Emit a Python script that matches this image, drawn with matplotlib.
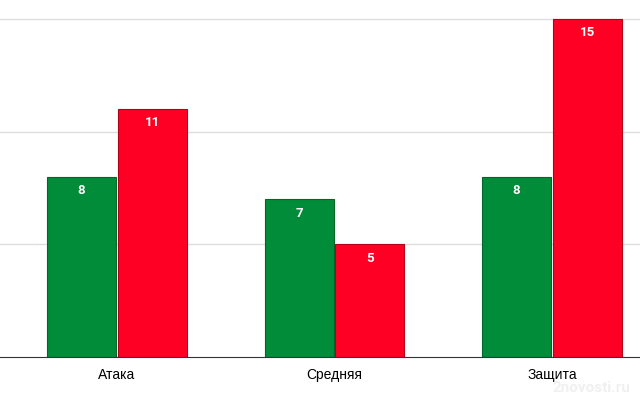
import numpy as np
import matplotlib.pyplot as plt

# data
categories = ["Атака", "Средняя", "Защита"]
green_vals = [8, 7, 8]
red_vals = [11, 5, 15]

plt.rcParams['font.family'] = ['Roboto', 'DejaVu Sans']

fig = plt.figure(figsize=(6.4, 4), dpi=100)
ax = fig.add_axes([0, 0.1075, 1, 0.8925])

x = np.arange(len(categories))
w = 0.317
g = ax.bar(x - w / 2 - 0.004, green_vals, w, color='#008C39', edgecolor='#00662a', linewidth=0.8, zorder=3)
r = ax.bar(x + w / 2 + 0.004, red_vals, w, color='#FF0025', edgecolor='#b3001a', linewidth=0.8, zorder=3)

# value labels inside the top of the bars
for bars, vals in [(g, green_vals), (r, red_vals)]:
    for b, v in zip(bars, vals):
        ax.annotate(str(v), (b.get_x() + b.get_width() / 2, v), xytext=(0, -10),
                    textcoords='offset points', ha='center', va='center',
                    color='white', fontsize=9.5, fontweight='bold', zorder=4)

ax.set_xlim(-0.538, 2.405)
ax.set_ylim(0, 15.84)
ax.set_yticks([5, 10, 15])
ax.yaxis.grid(True, color='#dddddd', linewidth=1, zorder=0)
ax.tick_params(axis='y', left=False, labelleft=False)
ax.set_xticks(x)
ax.set_xticklabels(categories, fontsize=10, family=['Liberation Sans', 'DejaVu Sans'])
ax.tick_params(axis='x', length=0, pad=8)
for s in ['top', 'right', 'left']:
    ax.spines[s].set_visible(False)
ax.spines['bottom'].set_color('#333333')
ax.spines['bottom'].set_zorder(5)

# faint watermark
fig.text(0.985, 0.012, "2novosti.ru", ha='right', va='bottom', color='#f0f0f0',
         fontsize=11, fontweight='bold')

fig.savefig("out.png", dpi=100)
